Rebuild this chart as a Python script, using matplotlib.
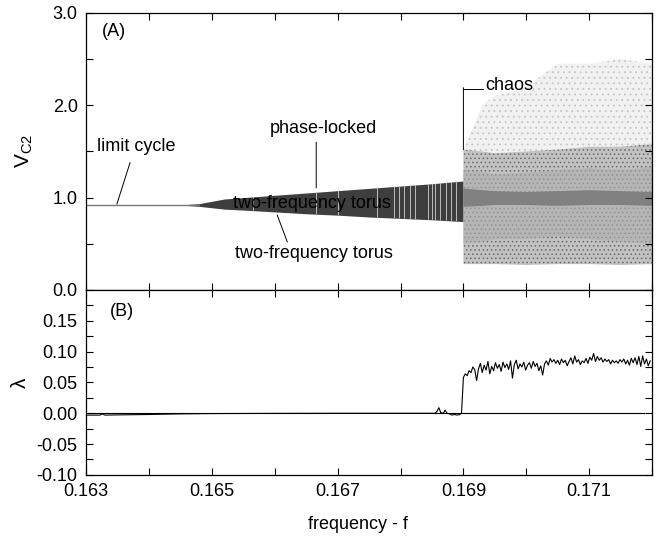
import matplotlib
matplotlib.use("Agg")
import matplotlib.pyplot as plt
from matplotlib.ticker import MultipleLocator, FuncFormatter
import numpy as np

plt.rcParams['font.family'] = ['Liberation Sans', 'DejaVu Sans']
plt.rcParams['hatch.linewidth'] = 0.6

# --- (A) diagramme de bifurcation : enveloppes ---
# cycle limite
lc_f = [0.1630, 0.1648]
lc_v = [0.920, 0.920]

# tore à deux fréquences (enveloppe haute / basse)
tor_f = [0.1646, 0.1648, 0.1650, 0.1652, 0.1655, 0.1660, 0.1665,
         0.1670, 0.1675, 0.1680, 0.1685, 0.1690]
tor_hi = [0.925, 0.935, 0.960, 0.985, 1.000, 1.025, 1.050,
          1.075, 1.100, 1.125, 1.150, 1.180]
tor_lo = [0.915, 0.905, 0.890, 0.875, 0.865, 0.845, 0.825,
          0.810, 0.790, 0.775, 0.760, 0.740]

# fenêtres d'accrochage de phase (bandes claires dans le tore)
pl_f = [0.16566, 0.16666, 0.16700, 0.16762, 0.16789, 0.16797, 0.16805,
        0.16815, 0.16823, 0.16844, 0.16850, 0.16855, 0.16863, 0.16873,
        0.16881, 0.16889]

# nuage chaotique
ch_f = [0.1690, 0.1693, 0.1695, 0.1700, 0.1705, 0.1710, 0.1715, 0.1720]
ch_hi = [1.52, 1.50, 1.48, 1.50, 1.52, 1.55, 1.55, 1.58]
ch_lo = [0.28, 0.28, 0.28, 0.27, 0.28, 0.28, 0.27, 0.28]
mid_hi = [1.30, 1.28, 1.25, 1.27, 1.30, 1.32, 1.30, 1.33]
mid_lo = [0.50, 0.52, 0.55, 0.55, 0.58, 0.55, 0.52, 0.50]
core_hi = [1.10, 1.08, 1.07, 1.06, 1.07, 1.08, 1.07, 1.06]
core_lo = [0.90, 0.91, 0.92, 0.92, 0.91, 0.92, 0.92, 0.91]
sparse_hi = [1.52, 2.00, 2.10, 2.20, 2.45, 2.45, 2.50, 2.45]

# --- (B) exposant de Lyapunov ---
lam_f = [0.16300, 0.16322, 0.16326, 0.16330, 0.16340, 0.16400, 0.16450,
         0.16500, 0.16600, 0.16700, 0.16800, 0.16855, 0.16858, 0.16861,
         0.16864, 0.16868, 0.16871, 0.16874, 0.16878, 0.16882, 0.16886,
         0.16890, 0.16894, 0.16897,
         0.16900, 0.16903, 0.16906, 0.16909, 0.16912, 0.16915, 0.16918,
         0.16921, 0.16924, 0.16927, 0.16930, 0.16933, 0.16936, 0.16939,
         0.16942, 0.16945, 0.16948, 0.16951, 0.16954, 0.16957, 0.16960,
         0.16963, 0.16966, 0.16969, 0.16972, 0.16975, 0.16978, 0.16981,
         0.16984, 0.16987, 0.16990, 0.16993, 0.16996, 0.16999, 0.17002,
         0.17005, 0.17008, 0.17011, 0.17014, 0.17017, 0.17020, 0.17023,
         0.17026, 0.17029, 0.17032, 0.17035, 0.17038, 0.17041, 0.17044,
         0.17047, 0.17050, 0.17053, 0.17056, 0.17059, 0.17062, 0.17065,
         0.17068, 0.17071, 0.17074, 0.17077, 0.17080, 0.17083, 0.17086,
         0.17089, 0.17092, 0.17095, 0.17098, 0.17101, 0.17104, 0.17107,
         0.17110, 0.17113, 0.17116, 0.17119, 0.17122, 0.17125, 0.17128,
         0.17131, 0.17134, 0.17137, 0.17140, 0.17143, 0.17146, 0.17149,
         0.17152, 0.17155, 0.17158, 0.17161, 0.17164, 0.17167, 0.17170,
         0.17173, 0.17176, 0.17179, 0.17182, 0.17185, 0.17188, 0.17191,
         0.17194, 0.17197]
lam = [-0.003, -0.003, -0.001, -0.003, -0.0028, -0.002, -0.001,
       -0.0005, -0.0002, 0.000, 0.000, 0.000, 0.003, 0.009,
       0.001, 0.000, 0.005, 0.000, -0.001, -0.003, -0.002,
       -0.003, -0.002, 0.000,
       0.058, 0.064, 0.061, 0.069, 0.066, 0.075, 0.071,
       0.053, 0.072, 0.081, 0.066, 0.078, 0.070, 0.084,
       0.064, 0.076, 0.069, 0.082, 0.073, 0.079, 0.068,
       0.083, 0.074, 0.080, 0.071, 0.085, 0.057, 0.079,
       0.086, 0.072, 0.080, 0.075, 0.083, 0.070, 0.078,
       0.082, 0.073, 0.084, 0.076, 0.081, 0.069, 0.077,
       0.062, 0.080, 0.085, 0.078, 0.089, 0.083, 0.087,
       0.081, 0.086, 0.079, 0.088, 0.082, 0.086, 0.077,
       0.084, 0.090, 0.080, 0.093, 0.083, 0.087, 0.079,
       0.085, 0.082, 0.089, 0.081, 0.091, 0.086, 0.097,
       0.084, 0.092, 0.086, 0.090, 0.083, 0.088, 0.084,
       0.087, 0.080, 0.086, 0.082, 0.085, 0.081, 0.087,
       0.083, 0.088, 0.080, 0.086, 0.078, 0.089, 0.082,
       0.090, 0.079, 0.092, 0.076, 0.093, 0.080, 0.088,
       0.077, 0.085]

fig = plt.figure(figsize=(6.62, 5.36), dpi=100)
ax1 = fig.add_axes([0.130, 0.459, 0.855, 0.517])
ax2 = fig.add_axes([0.130, 0.114, 0.855, 0.345])

# ----- panneau A -----
ax1.plot(lc_f, lc_v, color='#777777', lw=1.0)
torus = ax1.fill_between(tor_f, tor_lo, tor_hi, color='#3e3e3e', lw=0)
stripes = ax1.vlines(pl_f, 0, 3, color='#bcbcbc', lw=0.7)
stripes.set_clip_path(torus.get_paths()[0], transform=ax1.transData)

# points épars au-dessus du nuage
ax1.fill_between(ch_f, ch_hi, sparse_hi, facecolor='#f1f1f1', edgecolor='#c4c4c4',
                 hatch='...', lw=0)
ax1.fill_between(ch_f, ch_lo, ch_hi, facecolor='#c2c2c2', edgecolor='#6a6a6a',
                 hatch='....', lw=0)
ax1.fill_between(ch_f, mid_lo, mid_hi, facecolor='#adadad', lw=0, alpha=0.6)
ax1.fill_between(ch_f, core_lo, core_hi, facecolor='#7c7c7c', lw=0, alpha=0.9)

fs = 13
ax1.text(0.16325, 2.80, '(A)', fontsize=fs, ha='left', va='center')
ax1.text(0.16318, 1.55, 'limit cycle', fontsize=fs, ha='left', va='center')
ax1.annotate('', xy=(0.16349, 0.93), xytext=(0.16370, 1.38),
             arrowprops=dict(arrowstyle='-', lw=0.7, color='black',
                             shrinkA=0, shrinkB=0))
ax1.text(0.16677, 1.75, 'phase-locked', fontsize=fs, ha='center', va='center')
ax1.annotate('', xy=(0.16666, 1.105), xytext=(0.16666, 1.60),
             arrowprops=dict(arrowstyle='-', lw=0.7, color='black',
                             shrinkA=0, shrinkB=0))
ax1.text(0.16659, 0.94, 'two-frequency torus', fontsize=fs, ha='center',
         va='center')
ax1.text(0.16663, 0.40, 'two-frequency torus', fontsize=fs, ha='center',
         va='center')
ax1.annotate('', xy=(0.16620, 0.52), xytext=(0.16604, 0.81),
             arrowprops=dict(arrowstyle='-', lw=0.7, color='black',
                             shrinkA=0, shrinkB=0))
ax1.annotate('', xy=(0.16900, 1.52), xytext=(0.16900, 2.19),
             arrowprops=dict(arrowstyle='-', lw=0.7, color='black',
                             shrinkA=0, shrinkB=0))
ax1.annotate('', xy=(0.16932, 2.17), xytext=(0.16900, 2.17),
             arrowprops=dict(arrowstyle='-', lw=0.7, color='black',
                             shrinkA=0, shrinkB=0))
ax1.text(0.16934, 2.17, 'chaos', fontsize=fs, ha='left', va='baseline')

ax1.set_xlim(0.163, 0.172)
ax1.set_ylim(0.0, 3.0)
ax1.xaxis.set_major_locator(MultipleLocator(0.001))
ax1.xaxis.set_major_formatter(FuncFormatter(lambda v, p: ''))
ax1.yaxis.set_major_locator(MultipleLocator(0.5))
ax1.yaxis.set_major_formatter(FuncFormatter(
    lambda v, p: f'{v:.1f}' if abs(v - round(v)) < 1e-6 else ''))
ax1.set_ylabel('V$_{\\mathregular{C2}}$', fontsize=15)
ax1.yaxis.set_label_coords(-0.09, 0.5)

# ----- panneau B -----
ax2.axhline(0.0, xmin=0, xmax=0.985, color='black', lw=0.8)
ax2.plot(lam_f, lam, color='black', lw=0.8)
ax2.text(0.16338, 0.165, '(B)', fontsize=fs, ha='left', va='center')

ax2.set_xlim(0.163, 0.172)
ax2.set_ylim(-0.10, 0.20)
ax2.xaxis.set_major_locator(MultipleLocator(0.001))
ax2.xaxis.set_major_formatter(FuncFormatter(
    lambda v, p: f'{v:.3f}' if round(v * 1000) % 2 == 1 else ''))
ax2.yaxis.set_major_locator(MultipleLocator(0.025))
ax2.yaxis.set_major_formatter(FuncFormatter(
    lambda v, p: f'{v:.2f}' if (round(v / 0.025) % 2 == 0 and v < 0.19) else ''))
ax2.set_ylabel('λ', fontsize=15)
ax2.yaxis.set_label_coords(-0.1, 0.5)
ax2.set_xlabel('frequency - f', fontsize=13)
ax2.xaxis.set_label_coords(0.48, -0.22)

for ax in (ax1, ax2):
    ax.tick_params(direction='in', top=True, right=True, length=5,
                   width=0.8, labelsize=13)
    ax.tick_params(axis='x', pad=6)
    ax.tick_params(axis='y', pad=6)
    for s in ax.spines.values():
        s.set_linewidth(0.9)

fig.savefig('out.png', dpi=100)
